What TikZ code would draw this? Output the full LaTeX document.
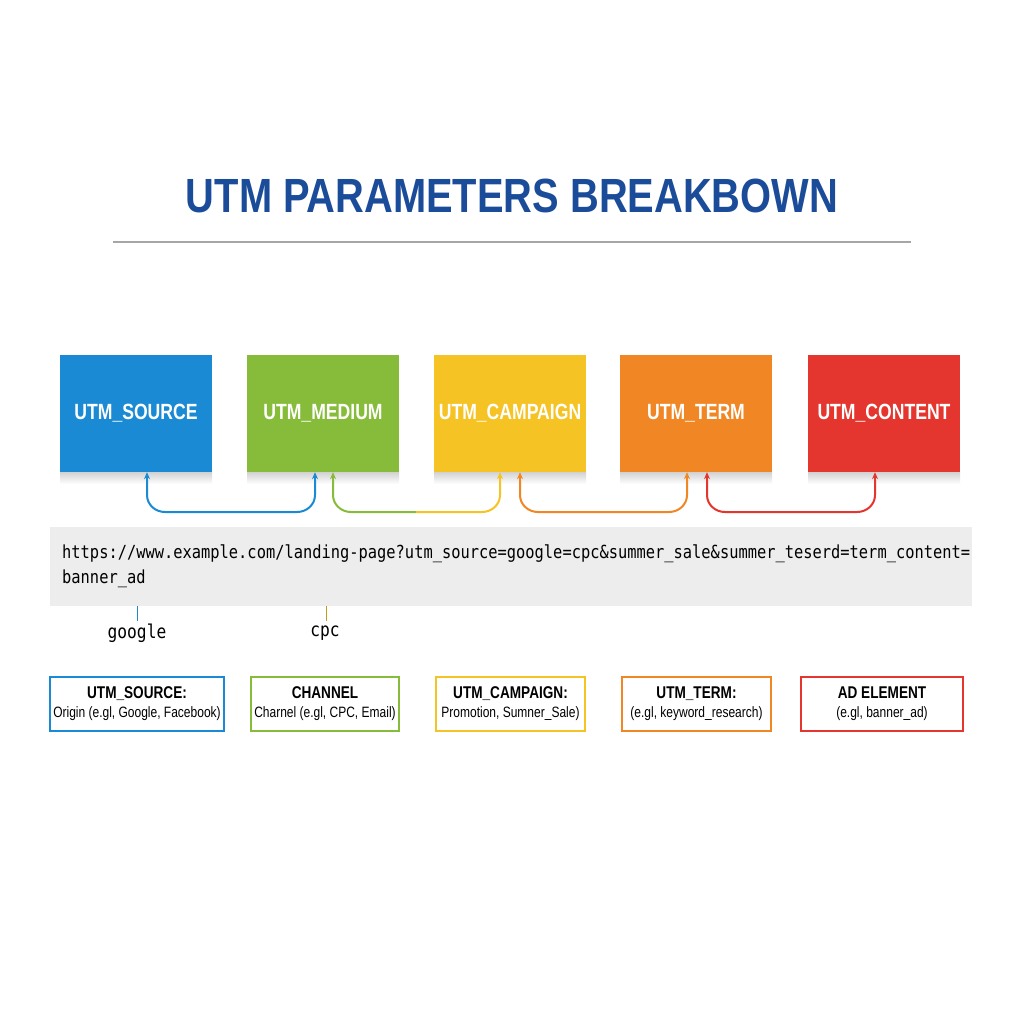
\documentclass[tikz,border=0pt]{standalone}
\usepackage{fontspec}
\setmainfont{Liberation Sans}
\setmonofont{DejaVu Sans Mono}
\usetikzlibrary{arrows.meta}
\definecolor{cblue}{HTML}{1A8AD4}
\definecolor{cgreen}{HTML}{86BC3A}
\definecolor{cyellow}{HTML}{F5C324}
\definecolor{corange}{HTML}{F08724}
\definecolor{cred}{HTML}{E4362E}
\definecolor{ctitle}{HTML}{1B4C99}
\tikzset{
  topbox/.style={fill=#1, minimum width=152pt, minimum height=117pt, inner sep=0pt, text=white, font=\bfseries\fontsize{22}{22}\selectfont},
  botbox/.style={draw=#1, line width=1.2pt, fill=white, minimum height=54pt, inner sep=0pt, align=center, font=\fontsize{15}{17}\selectfont},
  conn/.style={line width=2pt, draw=#1, -{Stealth[length=7pt,width=6pt]}},
}
\newcommand{\narrow}[1]{\scalebox{0.8}[1]{#1}}
\newcommand{\mnarrow}[1]{\scalebox{0.855}[1]{#1}}
\begin{document}
\begin{tikzpicture}[x=1pt,y=-1pt]
\useasboundingbox[fill=white] (0,0) rectangle (1024,1024);
\node[text=ctitle, font=\bfseries\fontsize{48}{48}\selectfont] (title) at (512,196) {\scalebox{0.83}[1]{UTM PARAMETERS BREAKBOWN}};
\draw[gray!70, line width=1.5pt] (113,242) -- (911,242);
% shadows
\foreach \x in {136,323,510,696,884}{
  \shade[top color=black!18, bottom color=white] (\x-76,472) rectangle (\x+76,484);
}
\node[topbox=cblue] (s1) at (136,413.5) {\narrow{UTM\_SOURCE}};
\node[topbox=cgreen] (s2) at (323,413.5) {\narrow{UTM\_MEDIUM}};
\node[topbox=cyellow] (s3) at (510,413.5) {\narrow{UTM\_CAMPAIGN}};
\node[topbox=corange] (s4) at (696,413.5) {\narrow{UTM\_TERM}};
\node[topbox=cred] (s5) at (884,413.5) {\narrow{UTM\_CONTENT}};
% connectors
\draw[line width=2pt, cblue] (147,480) -- (147,495) to[out=-90,in=180] (165,512) -- (297,512) to[out=0,in=-90] (315,495) -- (315,480);
\draw[conn=cblue] (147,482) -- (s1.south -| 147,0);
\draw[conn=cblue] (315,482) -- (s2.south -| 315,0);
\draw[line width=2pt, cgreen] (333,480) -- (333,495) to[out=-90,in=180] (351,512) -- (416,512);
\draw[line width=2pt, cyellow] (416,512) -- (482,512) to[out=0,in=-90] (500,495) -- (500,480);
\draw[conn=cgreen] (333,482) -- (s2.south -| 333,0);
\draw[conn=cyellow] (500,482) -- (s3.south -| 500,0);
\draw[line width=2pt, corange] (520,480) -- (520,495) to[out=-90,in=180] (538,512) -- (669,512) to[out=0,in=-90] (687,495) -- (687,480);
\draw[conn=corange] (520,482) -- (s3.south -| 520,0);
\draw[conn=corange] (687,482) -- (s4.south -| 687,0);
\draw[line width=2pt, cred] (707,480) -- (707,495) to[out=-90,in=180] (725,512) -- (857,512) to[out=0,in=-90] (875,495) -- (875,480);
\draw[conn=cred] (707,482) -- (s4.south -| 707,0);
\draw[conn=cred] (875,482) -- (s5.south -| 875,0);
% URL
\fill[black!7] (50,527) rectangle (972,606);
\node[anchor=west, font=\ttfamily\fontsize{18}{25}\selectfont, align=left, inner sep=0pt] (url) at (62,566) {\mnarrow{https://www.example.com/landing-page?utm\_source=google=cpc\&summer\_sale\&summer\_teserd=term\_content=}\\\mnarrow{banner\_ad}};
\coordinate (t1) at (137,606); \coordinate (t2) at (326,606);
\draw[cblue, line width=1pt] (t1) -- ++(0,15);
\draw[cyellow!80!black, line width=1pt] (t2) -- ++(0,15);
\node[font=\ttfamily\fontsize{19}{19}\selectfont] (g) at (137,633) {\mnarrow{google}};
\node[font=\ttfamily\fontsize{19}{19}\selectfont] (c) at (325,633) {\mnarrow{cpc}};
% bottom boxes
\node[botbox=cblue, minimum width=174pt] (d1) at (137,704) {\narrow{\bfseries\fontsize{17}{17}\selectfont UTM\_SOURCE:}\\[2pt]\narrow{Origin (e.gl, Google, Facebook)}};
\node[botbox=cgreen, minimum width=148pt] (d2) at (325,704) {\narrow{\bfseries\fontsize{17}{17}\selectfont CHANNEL}\\[2pt]\narrow{Charnel (e.gl, CPC, Email)}};
\node[botbox=cyellow, minimum width=149pt] (d3) at (510.5,704) {\narrow{\bfseries\fontsize{17}{17}\selectfont UTM\_CAMPAIGN:}\\[2pt]\narrow{Promotion, Sumner\_Sale)}};
\node[botbox=corange, minimum width=149pt] (d4) at (696.5,704) {\narrow{\bfseries\fontsize{17}{17}\selectfont UTM\_TERM:}\\[2pt]\narrow{(e.gl, keyword\_research)}};
\node[botbox=cred, minimum width=162pt] (d5) at (882,704) {\narrow{\bfseries\fontsize{17}{17}\selectfont AD ELEMENT}\\[2pt]\narrow{(e.gl, banner\_ad)}};
\end{tikzpicture}
\end{document}
